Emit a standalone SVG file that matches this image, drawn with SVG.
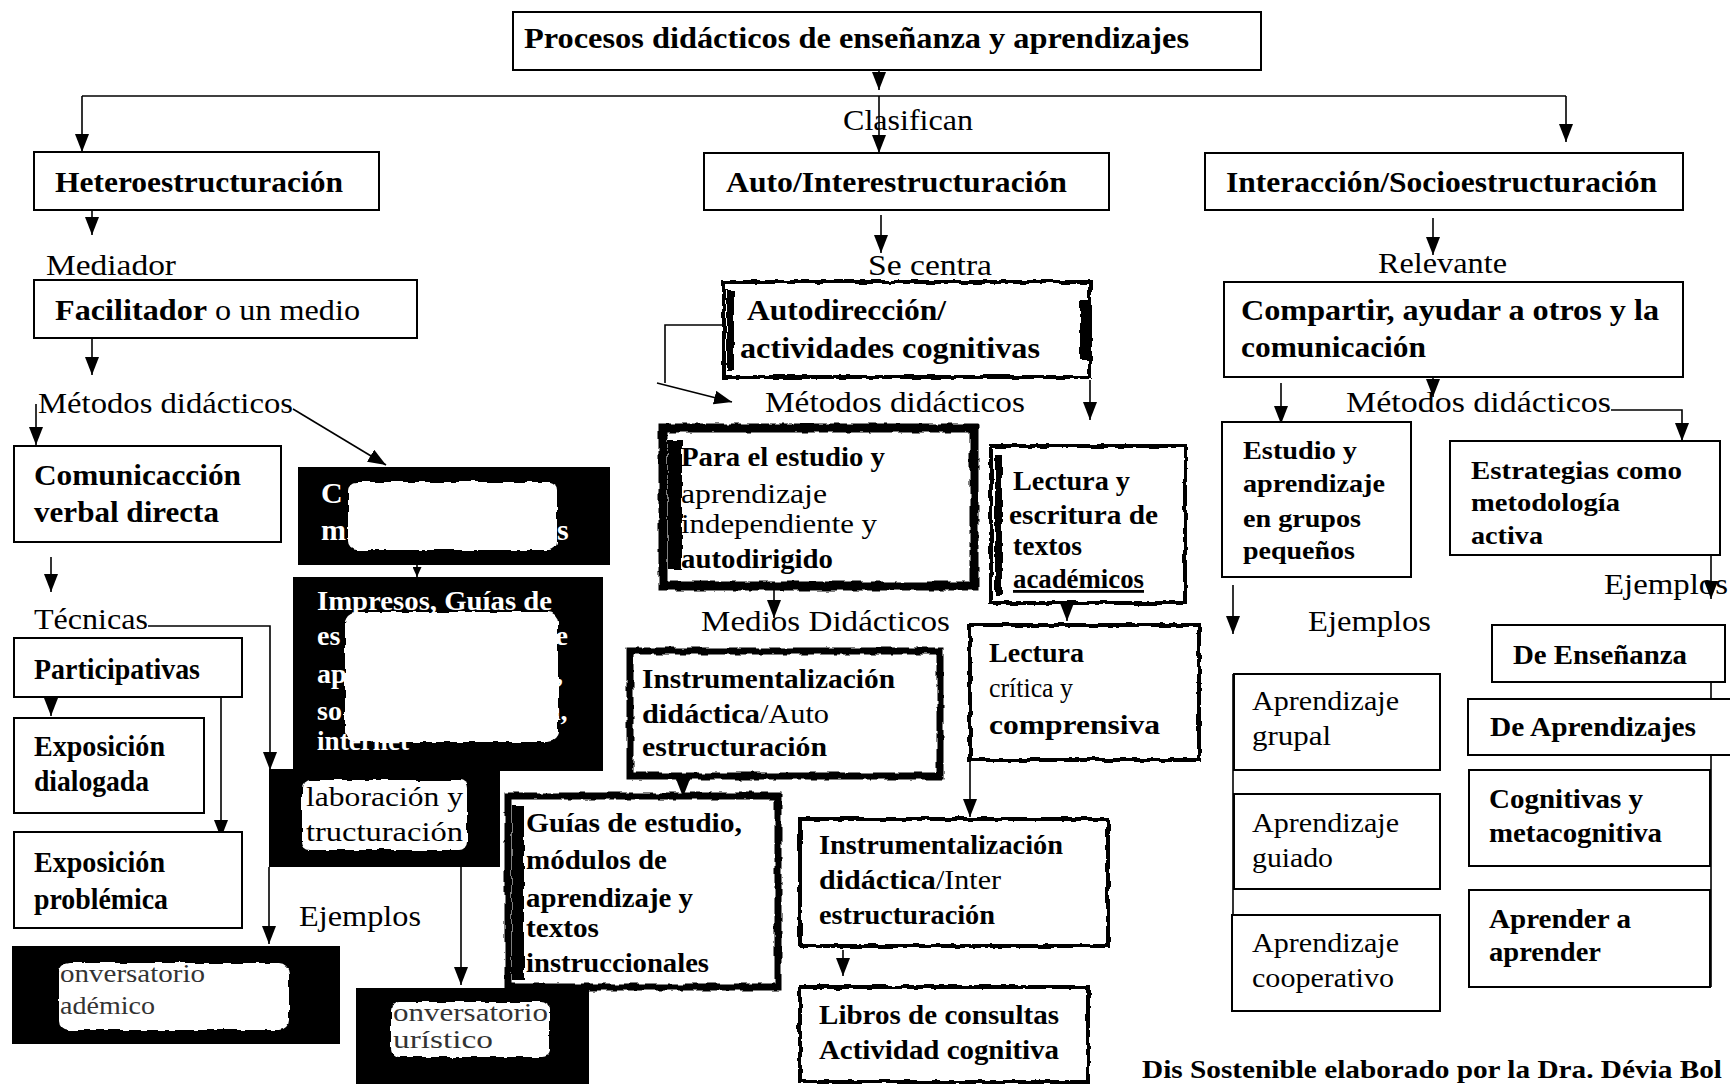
<svg xmlns="http://www.w3.org/2000/svg" width="1730" height="1084" viewBox="0 0 1730 1084">
<defs>
<filter id="rough" x="-5%" y="-5%" width="110%" height="110%">
<feTurbulence type="fractalNoise" baseFrequency="0.09" numOctaves="2" seed="3" result="n"/>
<feDisplacementMap in="SourceGraphic" in2="n" scale="5" xChannelSelector="R" yChannelSelector="G"/>
</filter>
<marker id="ar" markerUnits="userSpaceOnUse" markerWidth="18" markerHeight="14" refX="18" refY="7" orient="auto"><path d="M0,0 L18,7 L0,14 Z" fill="#000"/></marker>
<marker id="as" markerUnits="userSpaceOnUse" markerWidth="10" markerHeight="9" refX="10" refY="4.5" orient="auto"><path d="M0,0 L10,4.5 L0,9 Z" fill="#000"/></marker>
</defs>
<style>
.box{fill:#fff;stroke:#000;stroke-width:2}
.gf{fill:#fff}
.gs{fill:none;stroke:#000;stroke-width:4;filter:url(#rough)}
.dark{fill:#000}
.blob{fill:#fff;filter:url(#rough)}
.t{font-family:"Liberation Serif","Times New Roman",serif;font-size:30px;fill:#000}
.s28{font-size:28px}
.s26{font-size:26px}
.s22{font-size:22px}
.b{font-weight:bold}
.w{fill:#fff}
.gr{fill:#333}
.c{fill:none;stroke:#000;stroke-width:1.6}
.m{marker-end:url(#ar)}
</style>
<rect width="1730" height="1084" fill="#fff"/>

<g id="connectors">
<path class="c m" d="M879,70 V90"/>
<path class="c" d="M82,96 H1566"/>
<path class="c m" d="M82,96 V152"/>
<path class="c m" d="M1566,96 V142"/>
<path class="c m" d="M879,96 V153"/>
<path class="c m" d="M92,210 V235"/>
<path class="c m" d="M92,338 V375"/>
<path class="c m" d="M36,404 V445"/>
<path class="c m" d="M293,409 L386,465"/>
<path class="c m" d="M51,557 V592"/>
<path class="c m" d="M148,626 H270 V770"/>
<path class="c m" d="M51,697 V716"/>
<path class="c m" d="M221,697 V838"/>
<path class="c m" d="M269,867 V944"/>
<path class="c m" d="M461,867 V985"/>
<path class="c" d="M417,565 V577" style="marker-end:url(#as)"/>
<path class="c m" d="M881,215 V253"/>
<path class="c m" d="M723,325 H665 V383 M657,383 L732,402"/>
<path class="c m" d="M1090,380 V420"/>
<path class="c m" d="M774,586 V618"/>
<path class="c m" d="M683,776 V797"/>
<path class="c m" d="M1067,603 V621"/>
<path class="c m" d="M970,760 V817"/>
<path class="c m" d="M843,950 V976"/>
<path class="c m" d="M1433,218 V255"/>
<path class="c m" d="M1433,377 V397"/>
<path class="c m" d="M1281,383 V424"/>
<path class="c m" d="M1611,410 H1682 V441"/>
<path class="c m" d="M1233,585 V634"/>
<path class="c" d="M1233,674 V1011"/>
<path class="c" d="M1711,682 V987"/>
<path class="c m" d="M1711,555 V599"/>
</g>

<g id="n-top"><rect class="box" x="513" y="12" width="748" height="58"/>
<text class="t b" x="524" y="48" textLength="665" lengthAdjust="spacingAndGlyphs">Procesos didácticos de enseñanza y aprendizajes</text></g>
<text class="t" x="843" y="130" textLength="130" lengthAdjust="spacingAndGlyphs">Clasifican</text>

<g id="n-hetero"><rect class="box" x="34" y="152" width="345" height="58"/>
<text class="t b" x="55" y="192" textLength="288" lengthAdjust="spacingAndGlyphs">Heteroestructuración</text></g>
<g id="n-auto"><rect class="box" x="704" y="153" width="405" height="57"/>
<text class="t b" x="726" y="192" textLength="341" lengthAdjust="spacingAndGlyphs">Auto/Interestructuración</text></g>
<g id="n-inter"><rect class="box" x="1205" y="153" width="478" height="57"/>
<text class="t b" x="1226" y="192" textLength="431" lengthAdjust="spacingAndGlyphs">Interacción/Socioestructuración</text></g>

<text class="t" x="46" y="275" textLength="130" lengthAdjust="spacingAndGlyphs">Mediador</text>
<text class="t" x="868" y="275" textLength="124" lengthAdjust="spacingAndGlyphs">Se centra</text>
<text class="t" x="1378" y="273" textLength="129" lengthAdjust="spacingAndGlyphs">Relevante</text>

<g id="n-facil"><rect class="box" x="34" y="280" width="383" height="58"/>
<text class="t" x="55" y="320" textLength="305" lengthAdjust="spacingAndGlyphs"><tspan class="b">Facilitador</tspan> o un medio</text></g>

<g id="n-autodir"><rect class="gf" x="724" y="282" width="366" height="95"/><rect class="gs" x="724" y="282" width="366" height="95"/>
<path d="M727,290 h7 v80 h-7 Z M1080,300 h8 v60 h-8 Z" fill="#000" filter="url(#rough)"/>
<text class="t b" x="747" y="320" textLength="199" lengthAdjust="spacingAndGlyphs">Autodirección/</text>
<text class="t b" x="740" y="358" textLength="300" lengthAdjust="spacingAndGlyphs">actividades cognitivas</text></g>

<g id="n-compartir"><rect class="box" x="1224" y="282" width="459" height="95"/>
<text class="t b" x="1241" y="320" textLength="418" lengthAdjust="spacingAndGlyphs">Compartir, ayudar a otros y la</text>
<text class="t b" x="1241" y="357" textLength="185" lengthAdjust="spacingAndGlyphs">comunicación</text></g>

<text class="t" x="38" y="413" textLength="255" lengthAdjust="spacingAndGlyphs">Métodos didácticos</text>
<text class="t" x="765" y="412" textLength="260" lengthAdjust="spacingAndGlyphs">Métodos didácticos</text>
<text class="t" x="1346" y="412" textLength="265" lengthAdjust="spacingAndGlyphs">Métodos didácticos</text>

<g id="n-comun"><rect class="box" x="14" y="446" width="267" height="96"/>
<text class="t b" x="34" y="485" textLength="207" lengthAdjust="spacingAndGlyphs">Comunicacción</text>
<text class="t b" x="34" y="522" textLength="185" lengthAdjust="spacingAndGlyphs">verbal directa</text></g>

<g id="n-dark1"><rect class="dark" x="298" y="467" width="312" height="98"/>
<rect class="blob" x="348" y="482" width="209" height="68" rx="8"/>
<text class="t b w" x="321" y="503">C</text>
<text class="t b w" x="321" y="540">m</text>
<text class="t b w" x="557" y="540">s</text></g>

<g id="n-dark2"><rect class="dark" x="293" y="577" width="310" height="194"/>
<rect class="dark" x="269" y="769" width="231" height="98"/>
<rect class="blob" x="345" y="612" width="213" height="130" rx="10"/>
<text class="t b w s28" x="317" y="610" textLength="235" lengthAdjust="spacingAndGlyphs">Impresos, Guías de</text>
<text class="t b w s28" x="317" y="645">es</text><text class="t b w s28" x="540" y="645">de</text>
<text class="t b w s28" x="317" y="683">ap</text><text class="t b w s28" x="545" y="683">s,</text>
<text class="t b w s28" x="317" y="720">so</text><text class="t b w s28" x="545" y="720">n,</text>
<text class="t b w s28" x="317" y="750" textLength="92" lengthAdjust="spacingAndGlyphs">internet</text>
<rect class="blob" x="302" y="780" width="165" height="70" rx="8"/>
<text class="t s28" x="306" y="806" textLength="157" lengthAdjust="spacingAndGlyphs">laboración y</text>
<text class="t s28" x="306" y="841" textLength="157" lengthAdjust="spacingAndGlyphs">tructuración</text></g>

<text class="t" x="34" y="629" textLength="114" lengthAdjust="spacingAndGlyphs">Técnicas</text>
<g id="n-partic"><rect class="box" x="14" y="638" width="228" height="59"/>
<text class="t b" x="34" y="679" textLength="166" lengthAdjust="spacingAndGlyphs">Participativas</text></g>
<g id="n-dialog"><rect class="box" x="14" y="718" width="190" height="95"/>
<text class="t b" x="34" y="756" textLength="131" lengthAdjust="spacingAndGlyphs">Exposición</text>
<text class="t b" x="34" y="791" textLength="115" lengthAdjust="spacingAndGlyphs">dialogada</text></g>
<g id="n-problem"><rect class="box" x="14" y="832" width="228" height="96"/>
<text class="t b" x="34" y="872" textLength="131" lengthAdjust="spacingAndGlyphs">Exposición</text>
<text class="t b" x="34" y="909" textLength="134" lengthAdjust="spacingAndGlyphs">problémica</text></g>
<text class="t" x="299" y="926" textLength="122" lengthAdjust="spacingAndGlyphs">Ejemplos</text>

<g id="n-convacad"><rect class="dark" x="12" y="946" width="328" height="98"/>
<rect class="blob" x="59" y="963" width="230" height="67" rx="10"/>
<text class="t gr s26" x="60" y="982" textLength="145" lengthAdjust="spacingAndGlyphs">onversatorio</text>
<text class="t gr s26" x="60" y="1014" textLength="95" lengthAdjust="spacingAndGlyphs">adémico</text></g>
<g id="n-convheur"><rect class="dark" x="356" y="988" width="233" height="100"/>
<rect class="blob" x="391" y="1002" width="159" height="55" rx="8"/>
<text class="t gr s26" x="393" y="1021" textLength="155" lengthAdjust="spacingAndGlyphs">onversatorio</text>
<text class="t gr s26" x="393" y="1048" textLength="100" lengthAdjust="spacingAndGlyphs">urístico</text></g>

<g id="n-para"><rect class="gf" x="663" y="428" width="311" height="158"/><rect class="gs" x="663" y="428" width="311" height="158" style="stroke-width:9"/>
<path d="M668,440 h14 v130 h-14 Z" fill="#000" filter="url(#rough)"/>
<text class="t b s28" x="681" y="466" textLength="204" lengthAdjust="spacingAndGlyphs">Para el estudio y</text>
<text class="t s28" x="681" y="503" textLength="146" lengthAdjust="spacingAndGlyphs">aprendizaje</text>
<text class="t s28" x="681" y="533" textLength="196" lengthAdjust="spacingAndGlyphs">independiente y</text>
<text class="t b s28" x="681" y="568" textLength="152" lengthAdjust="spacingAndGlyphs">autodirigido</text></g>
<text class="t" x="701" y="631" textLength="249" lengthAdjust="spacingAndGlyphs">Medios Didácticos</text>

<g id="n-instr1"><rect class="gf" x="630" y="651" width="310" height="125"/><rect class="gs" x="630" y="651" width="310" height="125" style="stroke-width:7"/>
<text class="t b s28" x="642" y="688" textLength="253" lengthAdjust="spacingAndGlyphs">Instrumentalización</text>
<text class="t s28" x="642" y="723" textLength="187" lengthAdjust="spacingAndGlyphs"><tspan class="b">didáctica</tspan>/Auto</text>
<text class="t b s28" x="642" y="756" textLength="185" lengthAdjust="spacingAndGlyphs">estructuración</text></g>

<g id="n-guias"><rect class="gf" x="508" y="796" width="270" height="191"/><rect class="gs" x="508" y="796" width="270" height="191" style="stroke-width:7"/>
<path d="M512,805 h12 v175 h-12 Z" fill="#000" filter="url(#rough)"/>
<text class="t b s28" x="526" y="832" textLength="216" lengthAdjust="spacingAndGlyphs">Guías de estudio,</text>
<text class="t b s28" x="526" y="869" textLength="141" lengthAdjust="spacingAndGlyphs">módulos de</text>
<text class="t b s28" x="526" y="907" textLength="167" lengthAdjust="spacingAndGlyphs">aprendizaje y</text>
<text class="t b s28" x="526" y="937" textLength="73" lengthAdjust="spacingAndGlyphs">textos</text>
<text class="t b s28" x="526" y="972" textLength="183" lengthAdjust="spacingAndGlyphs">instruccionales</text></g>

<g id="n-lect1"><rect class="gf" x="991" y="446" width="194" height="157"/><rect class="gs" x="991" y="446" width="194" height="157"/>
<path d="M995,455 h7 v140 h-7 Z" fill="#000" filter="url(#rough)"/>
<text class="t b s28" x="1013" y="490" textLength="117" lengthAdjust="spacingAndGlyphs">Lectura y</text>
<text class="t s28" x="1009" y="524" textLength="149" lengthAdjust="spacingAndGlyphs"><tspan class="b">escritura de</tspan></text>
<text class="t b s28" x="1013" y="555" textLength="69" lengthAdjust="spacingAndGlyphs">textos</text>
<text class="t b s28" x="1013" y="588" textLength="131" lengthAdjust="spacingAndGlyphs" text-decoration="underline">académicos</text></g>

<g id="n-lect2"><rect class="gf" x="970" y="625" width="229" height="135"/><rect class="gs" x="970" y="625" width="229" height="135"/>
<text class="t b s28" x="989" y="662" textLength="95" lengthAdjust="spacingAndGlyphs">Lectura</text>
<text class="t s28" x="989" y="697" textLength="84" lengthAdjust="spacingAndGlyphs">crítica y</text>
<text class="t b s28" x="989" y="734" textLength="171" lengthAdjust="spacingAndGlyphs">comprensiva</text></g>

<g id="n-instr2"><rect class="gf" x="800" y="819" width="308" height="127"/><rect class="gs" x="800" y="819" width="308" height="127"/>
<text class="t b s28" x="819" y="854" textLength="244" lengthAdjust="spacingAndGlyphs">Instrumentalización</text>
<text class="t s28" x="819" y="889" textLength="182" lengthAdjust="spacingAndGlyphs"><tspan class="b">didáctica</tspan>/Inter</text>
<text class="t b s28" x="819" y="924" textLength="176" lengthAdjust="spacingAndGlyphs">estructuración</text></g>

<g id="n-libros"><rect class="gf" x="800" y="987" width="288" height="95"/><rect class="gs" x="800" y="987" width="288" height="95"/>
<text class="t b s28" x="819" y="1024" textLength="240" lengthAdjust="spacingAndGlyphs">Libros de consultas</text>
<text class="t b s28" x="819" y="1059" textLength="240" lengthAdjust="spacingAndGlyphs">Actividad cognitiva</text></g>

<g id="n-estudio"><rect class="box" x="1222" y="422" width="189" height="155"/>
<text class="t b s26" x="1243" y="459" textLength="114" lengthAdjust="spacingAndGlyphs">Estudio y</text>
<text class="t b s26" x="1243" y="492" textLength="142" lengthAdjust="spacingAndGlyphs">aprendizaje</text>
<text class="t b s26" x="1243" y="527" textLength="118" lengthAdjust="spacingAndGlyphs">en grupos</text>
<text class="t b s26" x="1243" y="559" textLength="112" lengthAdjust="spacingAndGlyphs">pequeños</text></g>

<g id="n-estrat"><rect class="box" x="1450" y="441" width="270" height="114"/>
<text class="t b s26" x="1471" y="479" textLength="211" lengthAdjust="spacingAndGlyphs">Estrategias como</text>
<text class="t b s26" x="1471" y="511" textLength="149" lengthAdjust="spacingAndGlyphs">metodología</text>
<text class="t b s26" x="1471" y="544" textLength="72" lengthAdjust="spacingAndGlyphs">activa</text></g>

<text class="t" x="1604" y="594" textLength="124" lengthAdjust="spacingAndGlyphs">Ejemplos</text>
<text class="t" x="1308" y="631" textLength="123" lengthAdjust="spacingAndGlyphs">Ejemplos</text>

<g id="n-apr1"><rect class="box" x="1234" y="674" width="206" height="96"/>
<text class="t s28" x="1252" y="710" textLength="147" lengthAdjust="spacingAndGlyphs">Aprendizaje</text>
<text class="t s28" x="1252" y="745" textLength="79" lengthAdjust="spacingAndGlyphs">grupal</text></g>
<g id="n-apr2"><rect class="box" x="1234" y="794" width="206" height="95"/>
<text class="t s28" x="1252" y="832" textLength="147" lengthAdjust="spacingAndGlyphs">Aprendizaje</text>
<text class="t s28" x="1252" y="867" textLength="81" lengthAdjust="spacingAndGlyphs">guiado</text></g>
<g id="n-apr3"><rect class="box" x="1232" y="915" width="208" height="96"/>
<text class="t s28" x="1252" y="952" textLength="147" lengthAdjust="spacingAndGlyphs">Aprendizaje</text>
<text class="t s28" x="1252" y="987" textLength="142" lengthAdjust="spacingAndGlyphs">cooperativo</text></g>

<g id="n-deens"><rect class="box" x="1492" y="625" width="233" height="57"/>
<text class="t b s28" x="1513" y="664" textLength="174" lengthAdjust="spacingAndGlyphs">De Enseñanza</text></g>
<g id="n-deapr"><rect class="box" x="1468" y="699" width="270" height="56"/>
<text class="t b s28" x="1490" y="736" textLength="206" lengthAdjust="spacingAndGlyphs">De Aprendizajes</text></g>
<g id="n-cogn"><rect class="box" x="1469" y="770" width="241" height="96"/>
<text class="t b s28" x="1489" y="808" textLength="154" lengthAdjust="spacingAndGlyphs">Cognitivas y</text>
<text class="t b s28" x="1489" y="842" textLength="173" lengthAdjust="spacingAndGlyphs">metacognitiva</text></g>
<g id="n-aprender"><rect class="box" x="1469" y="890" width="241" height="97"/>
<text class="t b s28" x="1489" y="928" textLength="142" lengthAdjust="spacingAndGlyphs">Aprender a</text>
<text class="t b s28" x="1489" y="961" textLength="112" lengthAdjust="spacingAndGlyphs">aprender</text></g>

<text class="t b s26" x="1142" y="1078" textLength="580" lengthAdjust="spacingAndGlyphs">Dis Sostenible elaborado por la Dra. Dévia Bol</text>
</svg>
